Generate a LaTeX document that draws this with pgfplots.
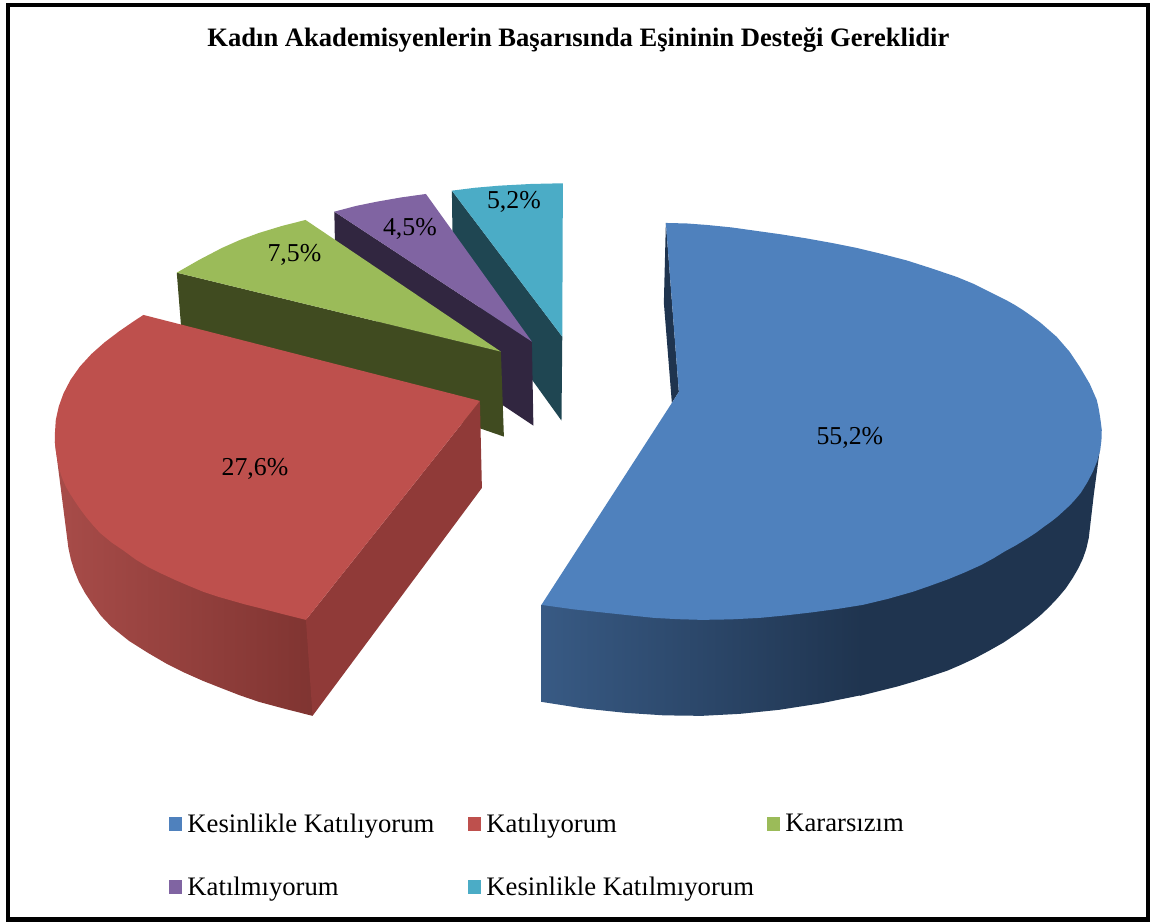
\documentclass[border=0pt]{standalone}
\usepackage{fontspec}
\setmainfont{Liberation Serif}
\usepackage{pgfplots}
\pgfplotsset{compat=1.18}
\definecolor{cblue}{HTML}{4F81BD}
\definecolor{cred}{HTML}{BE504D}
\definecolor{cgreen}{HTML}{9BBB59}
\definecolor{cpurple}{HTML}{8064A2}
\definecolor{cteal}{HTML}{4BACC6}
\definecolor{dblue}{HTML}{1F344F}
\definecolor{mblue}{HTML}{385A84}
\definecolor{dred}{HTML}{903A38}
\definecolor{lred}{HTML}{A84C49}
\definecolor{rred}{HTML}{7F3431}
\definecolor{dgreen}{HTML}{404B20}
\definecolor{dpurple}{HTML}{312640}
\definecolor{dteal}{HTML}{1F4652}
\pgfplotsset{face/.style={draw=none,mark=none,forget plot,fill=#1}}
\begin{document}
\begin{tikzpicture}
\begin{axis}[
  scale only axis, width=1150pt, height=922pt,
  xmin=0, xmax=1150, ymin=0, ymax=922, y dir=reverse,
  axis lines=none, clip=false,
  legend columns=3,
  legend style={at={(axis cs:169,812)}, anchor=north west, draw=none, fill=none,
    font=\fontsize{26.7}{29}\selectfont, row sep=39pt, inner sep=0pt, outer sep=0pt,
    /tikz/every odd column/.append style={column sep=3pt},
    /tikz/every even column/.append style={column sep=7pt}},
  legend cell align=left,
  legend image code/.code={\fill[#1] (0pt,-7pt) rectangle (13.5pt,7pt);},
]
\addlegendimage{fill=cblue,draw=none}
\addlegendentry{\makebox[271.5pt][l]{Kesinlikle Katılıyorum}}
\addlegendimage{fill=cred,draw=none}
\addlegendentry{\makebox[271.5pt][l]{Katılıyorum}}
\addlegendimage{fill=cgreen,draw=none}
\addlegendentry{\makebox[271.5pt][l]{Kararsızım}}
\addlegendimage{fill=cpurple,draw=none}
\addlegendentry{\makebox[271.5pt][l]{Katılmıyorum}}
\addlegendimage{fill=cteal,draw=none}
\addlegendentry{\makebox[271.5pt][l]{Kesinlikle Katılmıyorum}}

% teal
\addplot[face=dteal] coordinates {(452,190.7)(562.4,336.7)(561.6,420.7)(453,270)(452,190.7)};
\addplot[face=cteal] coordinates {(452,190.7)(475,187.8)(499.4,185.7)(531,184)(563,183.3)(562.4,336.7)(452,190.7)};
% purple
\addplot[face=dpurple] coordinates {(334.4,211.7)(532,341.7)(533.5,425.7)(336,294)(334.4,211.7)};
\addplot[face=cpurple] coordinates {(334.4,211.7)(356,206)(377,201.7)(401,197.5)(426,194)(532,341.7)(334.4,211.7)};
% green
\addplot[face=dgreen] coordinates {(176.8,272.7)(501,351.7)(504,436.7)(181,325)(176.8,272.7)};
\addplot[face=cgreen] coordinates {(176.8,272.7)(199,260)(222,248)(240,240)(259,233)(282,226)(305.6,220)(501,351.7)(176.8,272.7)};
% red
\addplot[draw=none,mark=none,forget plot,shading=axis,left color=lred,right color=rred,shading angle=90] coordinates {(54.8,441.7)(68.4,548)(71,560)(74.5,571)(79,582)(85,593)(93,605)(101,616)(111,626.5)(129,641)(148,653)(166,663.5)(185,673)(203,681)(222,688.5)(240,695.5)(259,702)(285,709)(312.6,716)(316,705)(310,620)(54.8,441.7)};
\addplot[face=dred] coordinates {(480,401)(482,488)(312.6,716)(306,620)(480,401)};
\addplot[face=cred] coordinates {(143.5,315)(480,401)(306,620)(282,614)(259,608)(245,604.5)(231,600.5)(217,596.5)(203.5,592)(189,586)(175,580)(161,573.5)(148,567)(135.5,559.5)(124,551)(111.5,542.5)(100,533)(92.7,525)(86,517)(79.7,508.5)(74,500)(69.8,493.5)(66,487)(63.3,481)(61,475)(58.8,467)(57,458)(55.7,450)(54.8,441)(54.9,434)(55.8,420)(58.8,406.5)(63.5,393.5)(70.5,380)(80,366.5)(91.5,354)(104.5,342.5)(119,331.5)(135,320.5)(143.5,315)};
% blue
\addplot[face=dblue] coordinates {(666,223)(664,303)(672,403)(679,392)(666,223)};
\addplot[face=dblue] coordinates {(860,600)(860,696)(880,691)(898,686.5)(915,681.5)(932,676)(947,671)(961,665)(975,658.5)(989,651)(1004,642.5)(1018,633)(1029,625)(1040,616)(1049,607.5)(1058,598)(1066,588.5)(1073,578)(1078.5,568.5)(1083,559)(1086.5,549)(1089,538)(1094,495)(1100,450)(860,600)};
\addplot[draw=none,mark=none,forget plot,shading=axis,left color=mblue,right color=dblue,shading angle=90] coordinates {(541.5,605)(541.5,702)(583,708.5)(625.7,713)(664,715.5)(702,716)(740,714)(779,710)(821,703.5)(863,695)(863,600)(541.5,605)};
\addplot[face=cblue] coordinates {(666,223)(687,223.5)(707,225)(732,227.5)(757,231)(782,234.5)(807,238.5)(832,243)(857,248)(882,254)(907,260.5)(932,268.5)(957,277)(974,284)(990,292)(1007,300.5)(1015,305)(1023,310)(1032,316.3)(1041,323)(1049,330)(1057,337)(1063.5,344.5)(1070,352)(1075,359.5)(1080,367)(1085,375.5)(1090,384)(1093.5,392)(1097,400)(1098.7,407.5)(1100,415)(1101,422)(1102,430)(1101.7,440)(1100.5,450)(1097.5,461)(1093,472)(1087.5,482.5)(1081,493)(1075.5,499.5)(1070,505.5)(1058,516.5)(1051,522)(1044,527)(1036,533)(1027.5,538.5)(1016,545.5)(1005,551.5)(993.5,558.5)(981.6,565)(965,572.5)(948,579.5)(930,586)(912.7,592)(888,599)(863,605)(838,609)(812,612.5)(786,615.5)(760,618)(731,619.5)(702,620)(678,619.3)(654,618)(630,615.5)(606.5,613)(574,609.5)(541.5,605)(672,403)(679,392)(666,223)};

\draw[black,line width=4.5pt] (axis cs:8.2,5.2) rectangle (axis cs:1148,919.7);
\path (axis cs:0,0) rectangle (axis cs:1150,922);
\node[font=\fontsize{26.6}{28}\selectfont\bfseries] at (axis cs:578.5,40) {Kadın Akademisyenlerin Başarısında Eşininin Desteği Gereklidir};
\node[font=\fontsize{25.8}{27}\selectfont] at (axis cs:850,438) {55,2\%};
\node[font=\fontsize{25.8}{27}\selectfont] at (axis cs:255,469) {27,6\%};
\node[font=\fontsize{25.8}{27}\selectfont] at (axis cs:294.5,255) {7,5\%};
\node[font=\fontsize{25.8}{27}\selectfont] at (axis cs:410,229) {4,5\%};
\node[font=\fontsize{25.8}{27}\selectfont] at (axis cs:514,202) {5,2\%};
\end{axis}
\end{tikzpicture}
\end{document}
